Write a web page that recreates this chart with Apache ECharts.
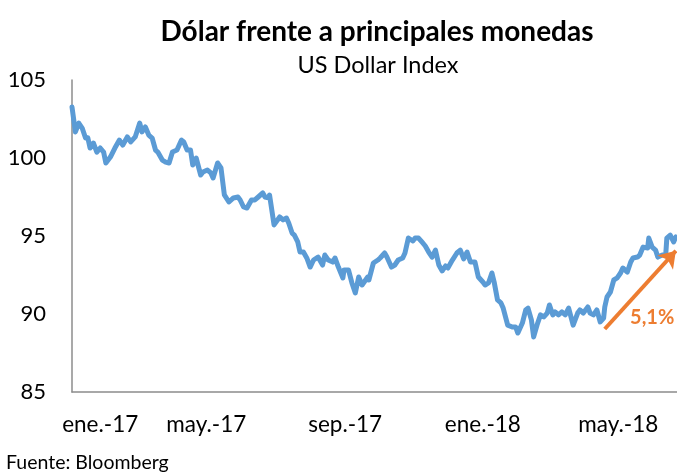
<!DOCTYPE html>
<html>
<head>
<meta charset="utf-8">
<script src="https://cdn.jsdelivr.net/npm/echarts@6/dist/echarts.min.js"></script>
<style>
  html, body { margin: 0; padding: 0; background: #fff; }
  #chart { width: 677px; height: 472px; }
</style>
</head>
<body>
<div id="chart"></div>
<script>
// days since 1 Jan 2017
const dayOffsets = [
  1, 4, 7, 10, 13, 15, 17, 20, 23, 26, 29, 31, 35, 39, 43, 46, 50, 53, 57, 61,
  63, 66, 69, 72, 75, 77, 81, 84, 87, 90, 94, 98, 100, 103, 106, 108, 111, 115, 117, 121,
  124, 126, 130, 133, 136, 140, 144, 148, 150, 153, 156, 160, 163, 166, 170, 172, 175, 176, 180, 185,
  188, 191, 193, 196, 198, 201, 203, 206, 209, 212, 215, 219, 223, 225, 228, 232, 234, 237, 241, 242,
  246, 249, 252, 255, 258, 263, 264, 268, 272, 274, 278, 280, 284, 287, 290, 294, 296, 299, 303, 305,
  308, 311, 314, 317, 320, 323, 326, 329, 332, 334, 338, 342, 345, 348, 351, 354, 358, 361, 365, 367,
  370, 373, 375, 378, 381, 383, 387, 391, 394, 396, 400, 403, 405, 408, 410, 413, 416, 419, 422, 424,
  427, 429, 432, 435, 438, 441, 442, 445, 449, 451, 454, 458, 460, 463, 466, 469, 472, 473, 475, 478,
  481, 484, 487, 489, 493, 496, 498, 502, 504, 507, 511, 512, 515, 518, 520, 524, 527, 528, 531, 534,
  536
];

// US Dollar Index
const dxyValues = [
  103.27, 101.67, 102.24, 101.92, 101.28, 101.3, 100.64, 100.96, 100.38, 100.64, 100.38, 99.68, 100.06, 100.64, 101.15, 100.83, 101.35, 101.03, 101.35, 102.24,
  101.67, 101.99, 101.47, 101.28, 100.51, 100.38, 99.87, 99.74, 99.68, 100.38, 100.51, 101.15, 101.03, 100.51, 100.51, 99.55, 100.0, 98.91, 99.1, 99.23,
  99.04, 98.72, 99.68, 99.36, 97.63, 97.18, 97.44, 97.5, 97.31, 96.86, 96.79, 97.31, 97.31, 97.5, 97.76, 97.5, 97.44, 97.63, 95.71, 96.22,
  96.03, 96.15, 95.83, 95.19, 95.06, 94.62, 93.97, 93.97, 93.59, 93.01, 93.46, 93.65, 93.14, 93.78, 93.46, 93.33, 93.59, 93.01, 92.31, 92.82,
  92.82, 91.99, 91.35, 92.37, 91.86, 92.37, 92.18, 93.27, 93.46, 93.59, 93.91, 93.65, 93.01, 93.14, 93.46, 93.59, 93.91, 94.87, 94.68, 94.87,
  94.87, 94.62, 94.36, 93.97, 93.65, 94.1, 93.14, 92.76, 93.08, 92.95, 93.46, 93.91, 94.1, 93.53, 93.97, 93.33, 93.33, 92.37, 92.05, 91.86,
  91.99, 92.63, 92.05, 90.9, 90.71, 90.38, 89.29, 89.17, 89.17, 88.78, 89.42, 90.26, 90.38, 89.62, 88.53, 89.29, 89.94, 89.81, 90.06, 90.58,
  89.94, 90.13, 89.94, 90.13, 89.94, 90.38, 90.26, 89.29, 90.06, 90.26, 90.06, 90.45, 90.06, 89.94, 90.26, 89.49, 89.74, 90.45, 91.09, 91.41,
  92.18, 92.31, 92.63, 92.95, 92.69, 93.33, 93.59, 93.65, 93.78, 94.29, 94.23, 94.87, 94.29, 94.1, 93.65, 93.78, 93.78, 94.87, 95.06, 94.62,
  94.94
];

// x-axis labels and the day they sit on
const tickLabels = ["ene.-17", "may.-17", "sep.-17", "ene.-18", "may.-18"];
const tickDays = [26, 120, 243, 365, 485];

// orange arrow: start / end (day, value), and where its label sits
const arrowDays = [473, 536];
const arrowValues = [89.04, 94.05];
const arrowLabel = "5,1%";
const arrowLabelAt = [515, 89.8];

const seriesData = dayOffsets.map((d, i) => [d, dxyValues[i]]);

const FONT = "Lato";

let chart = echarts.init(document.getElementById("chart"));
let option = {
    animation: false,
    textStyle: { fontFamily: FONT },
    title: [
        {
            text: "Dólar frente a principales monedas",
            left: 372,
            top: 13,
            textAlign: "center",
            textStyle: { fontFamily: FONT, fontSize: 28, fontWeight: "bold", color: "#000" },
        },
        {
            text: "US Dollar Index",
            left: 373,
            top: 48,
            textAlign: "center",
            textStyle: { fontFamily: FONT, fontSize: 23.5, fontWeight: "normal", color: "#000" },
        },
        {
            text: "Fuente: Bloomberg",
            left: 1,
            top: 448,
            textStyle: { fontFamily: FONT, fontSize: 19.5, fontWeight: "normal", color: "#000" },
        },
    ],
    grid: {
        left: 72,
        right: 0,
        top: 80,
        bottom: 80,
        containLabel: false,
    },
    xAxis: {
        type: "value",
        min: 1,
        max: 537,
        axisLine: { show: true, lineStyle: { color: "#8c8c8c", width: 1.5 } },
        axisTick: { show: false },
        splitLine: { show: false },
        axisLabel: {
            customValues: tickDays,
            margin: 21,
            fontFamily: FONT,
            fontSize: 22.5,
            color: "#000",
            formatter: (value) => {
                const i = tickDays.indexOf(value);
                return i >= 0 ? tickLabels[i] : "";
            },
        },
    },
    yAxis: {
        type: "value",
        min: 85,
        max: 105,
        interval: 5,
        axisLine: { show: true, lineStyle: { color: "#8c8c8c", width: 1.5 } },
        axisTick: { show: false },
        splitLine: { show: false },
        axisLabel: {
            margin: 26,
            fontFamily: FONT,
            fontSize: 22,
            color: "#000",
        },
    },
    series: [
        {
            name: "US Dollar Index",
            type: "line",
            data: seriesData,
            showSymbol: false,
            smooth: false,
            lineStyle: { color: "#5b9bd5", width: 5, join: "round", cap: "round" },
            markLine: {
                silent: true,
                symbol: ["none", "arrow"],
                symbolSize: 16,
                lineStyle: { color: "#ed7d31", width: 4, type: "solid" },
                itemStyle: { color: "#ed7d31" },
                label: { show: false },
                data: [
                    [
                        { coord: [arrowDays[0], arrowValues[0]] },
                        { coord: [arrowDays[1], arrowValues[1]] },
                    ],
                ],
            },
            markPoint: {
                silent: true,
                symbol: "circle",
                symbolSize: 1,
                itemStyle: { color: "rgba(0,0,0,0)" },
                label: {
                    show: true,
                    position: "inside",
                    formatter: arrowLabel,
                    fontFamily: FONT,
                    fontSize: 20,
                    fontWeight: "bold",
                    color: "#ed7d31",
                },
                data: [{ coord: arrowLabelAt }],
            },
        },
    ],
};
chart.setOption(option);
</script>
</body>
</html>
